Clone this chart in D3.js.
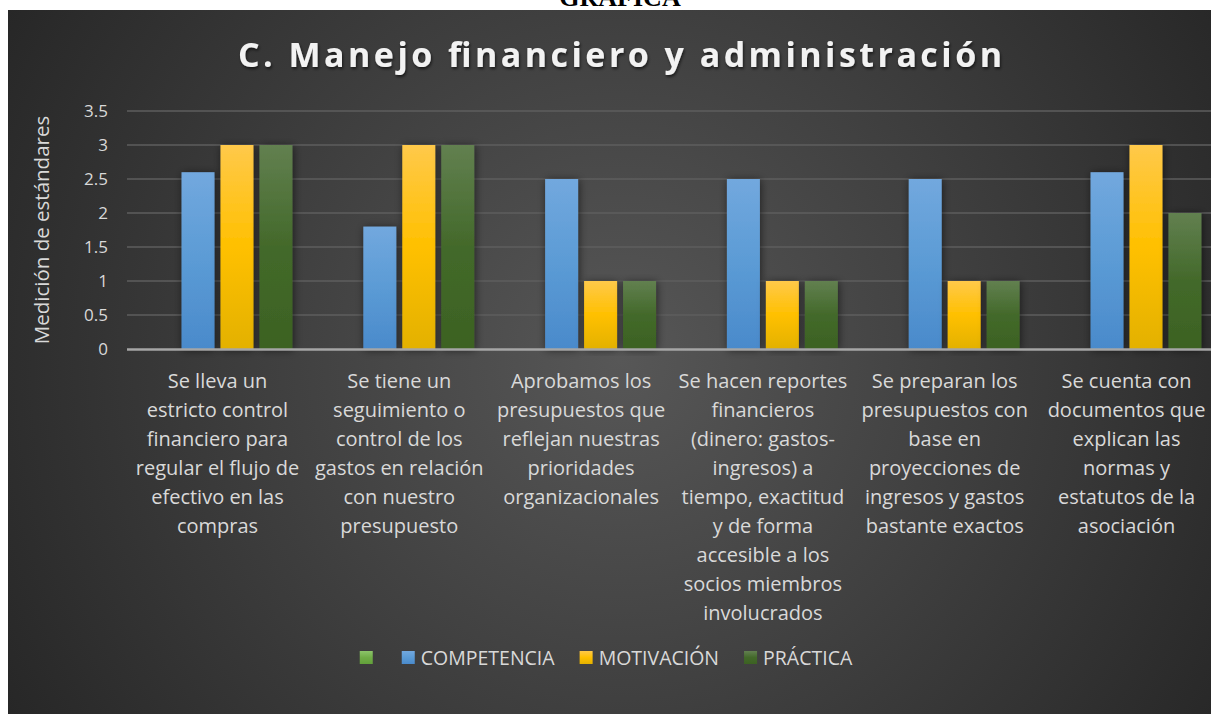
<!DOCTYPE html>
<html>
<head>
<meta charset="utf-8">
<script src="https://cdn.jsdelivr.net/npm/d3@7"></script>
<style>
  body { margin: 0; background: #fff; }
  svg { display: block; }
</style>
</head>
<body>
<div id="chart"></div>
<script>
(function(){
    var width = 1211,
        height = 714;

    // data
    var categories = [
      ["Se lleva un", "estricto control", "financiero para", "regular el flujo de", "efectivo en las", "compras"],
      ["Se tiene un", "seguimiento o", "control de los", "gastos en relación", "con nuestro", "presupuesto"],
      ["Aprobamos los", "presupuestos que", "reflejan nuestras", "prioridades", "organizacionales"],
      ["Se hacen reportes", "financieros", "(dinero: gastos-", "ingresos) a", "tiempo, exactitud", "y de forma", "accesible a los", "socios miembros", "involucrados"],
      ["Se preparan los", "presupuestos con", "base en", "proyecciones de", "ingresos y gastos", "bastante exactos"],
      ["Se cuenta con", "documentos que", "explican las", "normas y", "estatutos de la", "asociación"]
    ]
    var seriesNames = ["", "COMPETENCIA", "MOTIVACIÓN", "PRÁCTICA"]
    var blank = [null, null, null, null, null, null]
    var competencia = [2.6, 1.8, 2.5, 2.5, 2.5, 2.6]
    var motivacion = [3, 3, 1, 1, 1, 3]
    var practica = [3, 3, 1, 1, 1, 2]
    var yTicks = [0, 0.5, 1, 1.5, 2, 2.5, 3, 3.5]

    var seriesValues = [blank, competencia, motivacion, practica]
    var gradIds = ["gLight", "gBlue", "gYellow", "gGreen"]

    var svg = d3.select("#chart")
      .append("svg")
      .attr("width", width)
      .attr("height", height)

    var defs = svg.append("defs")

    var bg = defs.append("radialGradient")
      .attr("id", "bg")
      .attr("gradientUnits", "userSpaceOnUse")
      .attr("cx", 620).attr("cy", 360).attr("r", 720)
    bg.append("stop").attr("offset", "0%").attr("stop-color", "#575757")
    bg.append("stop").attr("offset", "100%").attr("stop-color", "#262626")

    function vgrad(id, stops){
      var g = defs.append("linearGradient")
        .attr("id", id)
        .attr("x1", 0).attr("y1", 0).attr("x2", 0).attr("y2", 1)
      stops.forEach(function(s){
        g.append("stop").attr("offset", s[0]).attr("stop-color", s[1])
      })
    }
    vgrad("gLight", [["0%", "#8cc56a"], ["50%", "#70ad47"], ["100%", "#62a03a"]])
    vgrad("gBlue", [["0%", "#72a8de"], ["50%", "#5b9bd5"], ["100%", "#4a8acb"]])
    vgrad("gYellow", [["0%", "#ffc94a"], ["50%", "#ffc000"], ["100%", "#e3b100"]])
    vgrad("gGreen", [["0%", "#628050"], ["50%", "#43692a"], ["100%", "#3c6222"]])

    var shadow = defs.append("filter").attr("id", "shadow")
      .attr("x", "-30%").attr("y", "-10%").attr("width", "160%").attr("height", "120%")
    shadow.append("feDropShadow")
      .attr("dx", 1).attr("dy", 1).attr("stdDeviation", 4)
      .attr("flood-color", "#000").attr("flood-opacity", 0.55)

    var tshadow = defs.append("filter").attr("id", "tshadow")
    tshadow.append("feDropShadow")
      .attr("dx", 1).attr("dy", 2).attr("stdDeviation", 1.5)
      .attr("flood-color", "#000").attr("flood-opacity", 0.6)

    // cut-off heading above the chart
    svg.append("text")
      .attr("x", 620).attr("y", 6)
      .attr("text-anchor", "middle")
      .style("font-family", "'Liberation Serif', serif")
      .style("font-weight", "bold")
      .style("font-size", "26px")
      .attr("fill", "#000")
      .text("GRÁFICA")

    svg.append("rect")
      .attr("x", 8).attr("y", 10)
      .attr("width", width - 8).attr("height", height - 10)
      .attr("fill", "url(#bg)")

    svg.append("text")
      .attr("x", 238).attr("y", 67)
      .attr("textLength", 764)
      .attr("lengthAdjust", "spacing")
      .style("font-family", "'Open Sans', sans-serif")
      .style("font-weight", "bold")
      .style("font-size", "34px")
      .attr("fill", "#f2f2f2")
      .attr("filter", "url(#tshadow)")
      .text("C. Manejo financiero y administración")

    var x0 = d3.scaleBand()
      .domain(d3.range(categories.length))
      .range([126.6, 1217.4])

    var x1 = d3.scaleBand()
      .domain(d3.range(seriesNames.length))
      .range([0, x0.bandwidth()])
      .paddingInner(0.154)
      .paddingOuter(0.41)

    var y = d3.scaleLinear()
      .domain([0, 3.5])
      .range([349, 111])

    // gridlines
    svg.append("g").selectAll("line")
      .data(yTicks.filter(function(d){ return d > 0 }))
      .enter().append("line")
      .attr("x1", 127).attr("x2", width)
      .attr("y1", function(d){ return y(d) })
      .attr("y2", function(d){ return y(d) })
      .attr("stroke", "#5e5e5e")
      .attr("stroke-width", 1.5)

    // y axis labels
    var yAxis = d3.axisLeft(y).tickValues(yTicks).tickSize(0).tickPadding(0)
      .tickFormat(function(d){ return d })
    var ya = svg.append("g")
      .attr("transform", "translate(108,0)")
      .call(yAxis)
    ya.select(".domain").remove()
    ya.selectAll("text")
      .style("font-family", "'Open Sans', sans-serif")
      .style("font-size", "17px")
      .attr("fill", "#d9d9d9")

    svg.append("text")
      .attr("transform", "translate(49,230) rotate(-90)")
      .attr("text-anchor", "middle")
      .style("font-family", "'Open Sans', sans-serif")
      .style("font-size", "20.5px")
      .attr("fill", "#d9d9d9")
      .text("Medición de estándares")

    // bars
    var groups = svg.append("g").selectAll("g")
      .data(categories)
      .enter().append("g")
      .attr("transform", function(d, i){ return "translate(" + x0(i) + ",0)" })

    groups.selectAll("rect")
      .data(function(d, i){
        return seriesValues.map(function(vals, s){ return {s: s, v: vals[i]} })
      })
      .enter().filter(function(d){ return d.v != null })
      .append("rect")
      .attr("x", function(d){ return x1(d.s) })
      .attr("width", x1.bandwidth())
      .attr("y", function(d){ return y(d.v) })
      .attr("height", function(d){ return y(0) - y(d.v) })
      .attr("fill", function(d){ return "url(#" + gradIds[d.s] + ")" })
      .attr("filter", "url(#shadow)")

    // x axis line
    svg.append("line")
      .attr("x1", 127).attr("x2", width)
      .attr("y1", y(0) + 0.5).attr("y2", y(0) + 0.5)
      .attr("stroke", "#a6a6a6")
      .attr("stroke-width", 2.5)

    // category labels
    var labels = svg.append("g").selectAll("text")
      .data(categories)
      .enter().append("text")
      .attr("text-anchor", "middle")
      .style("font-family", "'Open Sans', sans-serif")
      .style("font-size", "20px")
      .attr("fill", "#d9d9d9")
      .attr("x", function(d, i){ return x0(i) + x0.bandwidth() / 2 })
      .attr("y", 388)

    labels.selectAll("tspan")
      .data(function(d){ return d })
      .enter().append("tspan")
      .attr("x", function(){ return this.parentNode.getAttribute("x") })
      .attr("dy", function(d, i){ return i === 0 ? 0 : 29 })
      .text(function(d){ return d })

    // legend
    var legend = svg.append("g")
    var items = legend.selectAll("g")
      .data(seriesNames)
      .enter().append("g")
    items.append("rect")
      .attr("width", 13).attr("height", 13)
      .attr("y", -7)
      .attr("fill", function(d, i){ return "url(#" + gradIds[i] + ")" })
    items.append("text")
      .attr("x", 19)
      .attr("dy", "0.35em")
      .style("font-family", "'Open Sans', sans-serif")
      .style("font-size", "19.5px")
      .attr("fill", "#d9d9d9")
      .text(function(d){ return d })

    var pos = 0
    items.each(function(d, i){
      var w = d ? 19 + this.querySelector("text").getComputedTextLength() : 13
      d3.select(this).attr("transform", "translate(" + pos + ",0)")
      pos += w + (d ? 25 : 29)
    })
    var total = pos - 25
    legend.attr("transform", "translate(" + (606 - total / 2) + ",658)")

})();
</script>
</body>
</html>
